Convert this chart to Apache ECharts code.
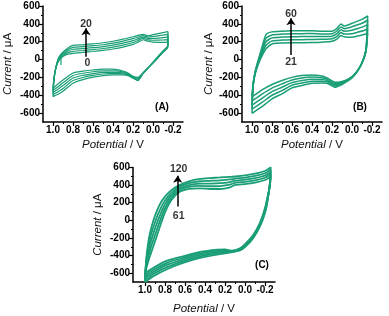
<!DOCTYPE html>
<html><head><meta charset="utf-8">
<script src="https://cdn.jsdelivr.net/npm/echarts/dist/echarts.min.js"></script>
<style>html,body{margin:0;padding:0;background:#fff}#c{width:389px;height:316px}</style>
</head><body><div id="c"></div>
<script>
// ---------- Tick values ----------
const xMajorTicks = [-0.2, 0, 0.2, 0.4, 0.6, 0.8, 1.0];
const xMinorTicks = [-0.1, 0.1, 0.3, 0.5, 0.7, 0.9];
const yMajorTicks = [-600, -400, -200, 0, 200, 400, 600];
const yMinorTicks = [-500, -300, -100, 100, 300, 500];

// ---------- Panel A (cycles 0 - 20) ----------
const potentialA = [1.00, 0.99, 0.97, 0.94, 0.90, 0.85, 0.80, 0.70, 0.60, 0.50, 0.40, 0.30, 0.20, 0.15, 0.10, 0.05, 0.00, -0.05, -0.10, -0.15,
  -0.145, -0.10, -0.05, 0.00, 0.05, 0.10, 0.15, 0.20, 0.25, 0.30, 0.40, 0.50, 0.60, 0.70, 0.80, 0.90, 0.95, 1.00];
const currentA0 = [-323, -200, -90, -10, 35, 60, 70, 80, 90, 102, 118, 140, 170, 195, 222, 205, 195, 193, 192, 195,
  130, 80, 20, -40, -95, -150, -200, -188, -150, -128, -108, -108, -117, -130, -150, -230, -275, -323];
const currentA5 = [-346, -208, -88, 0, 48, 78, 92, 101, 112, 124, 140, 162, 191, 214, 237, 220, 216, 217, 219, 224,
  135, 84, 23, -38, -94, -152, -209, -193, -157, -139, -124, -126, -137, -154, -179, -261, -304, -346];
const currentA10 = [-370, -215, -85, 10, 60, 95, 115, 122, 133, 145, 162, 184, 212, 232, 252, 235, 237, 241, 246, 253,
  140, 88, 27, -35, -94, -153, -218, -199, -165, -150, -140, -144, -157, -177, -207, -292, -332, -370];
const currentA15 = [-393, -222, -82, 20, 72, 112, 137, 144, 155, 166, 183, 206, 234, 251, 268, 250, 258, 266, 274, 283,
  145, 93, 30, -33, -93, -155, -228, -204, -172, -161, -156, -162, -178, -201, -236, -324, -361, -393];
const currentA20 = [-416, -230, -80, 30, 85, 130, 159, 165, 176, 188, 205, 228, 255, 270, 283, 265, 279, 290, 301, 312,
  150, 97, 34, -30, -93, -157, -237, -210, -180, -172, -172, -180, -198, -225, -265, -355, -390, -416];
const startPotentialA = [0.92, 0.92];
const startCurrentA = [-60, 45];

// ---------- Panel B (cycles 21 - 60) ----------
const potentialB = [1.00, 0.99, 0.97, 0.94, 0.90, 0.86, 0.80, 0.70, 0.60, 0.50, 0.40, 0.30, 0.20, 0.15, 0.11, 0.08, 0.00, -0.05, -0.10, -0.157,
  -0.14, -0.10, -0.05, 0.00, 0.05, 0.10, 0.17, 0.20, 0.25, 0.30, 0.40, 0.50, 0.60, 0.70, 0.80, 0.90, 0.95, 1.00];
const currentB21 = [-416, -280, -170, -60, 40, 120, 175, 185, 189, 189, 190, 195, 205, 230, 270, 256, 250, 262, 275, 295,
  90, -40, -130, -190, -225, -245, -255, -240, -205, -185, -173, -180, -200, -235, -280, -340, -380, -416];
const currentB31 = [-463, -289, -162, -49, 65, 160, 209, 218, 222, 223, 224, 226, 233, 260, 302, 286, 289, 304, 319, 343,
  98, -39, -133, -194, -230, -254, -269, -254, -220, -204, -197, -208, -230, -273, -320, -387, -426, -463];
const currentB41 = [-510, -298, -155, -38, 90, 200, 243, 252, 256, 257, 257, 257, 262, 290, 334, 316, 328, 345, 363, 392,
  105, -38, -135, -198, -235, -263, -283, -268, -235, -224, -220, -235, -259, -310, -360, -434, -473, -510];
const currentB51 = [-556, -306, -148, -26, 115, 240, 276, 285, 289, 290, 291, 287, 290, 320, 366, 346, 367, 387, 406, 440,
  113, -36, -138, -201, -240, -271, -297, -281, -250, -243, -244, -263, -289, -348, -400, -481, -519, -556];
const currentB60 = [-603, -315, -140, -15, 140, 280, 310, 318, 322, 324, 324, 318, 318, 350, 398, 376, 406, 428, 450, 488,
  120, -35, -140, -205, -245, -280, -311, -295, -265, -262, -267, -290, -318, -385, -440, -528, -565, -603];

// ---------- Panel C (cycles 61 - 120) ----------
const potentialC = [1.00, 0.99, 0.97, 0.95, 0.92, 0.88, 0.84, 0.80, 0.74, 0.66, 0.56, 0.45, 0.35, 0.25, 0.15, 0.10, 0.00, -0.10, -0.20, -0.257,
  -0.25, -0.23, -0.20, -0.15, -0.08, 0.00, 0.05, 0.13, 0.20, 0.28, 0.45, 0.62, 0.78, 0.92, 1.00];
const currentC61 = [-600, -560, -475, -405, -305, -172, -35, 90, 225, 320, 358, 364, 356, 356, 375, 402, 412, 428, 458, 496,
  400, 290, 140, -25, -170, -270, -318, -345, -330, -333, -359, -408, -457, -540, -600];
const currentC76 = [-626, -538, -424, -340, -233, -102, 25, 135, 254, 339, 379, 391, 387, 389, 405, 426, 437, 454, 484, 523,
  410, 280, 126, -36, -179, -279, -324, -349, -341, -347, -376, -427, -482, -564, -626];
const currentC91 = [-651, -515, -373, -275, -160, -31, 85, 180, 283, 359, 401, 417, 418, 422, 435, 450, 462, 479, 509, 549,
  420, 270, 111, -47, -188, -288, -329, -353, -353, -361, -393, -446, -506, -588, -651];
const currentC106 = [-677, -493, -321, -209, -88, 40, 145, 225, 311, 378, 422, 444, 449, 454, 464, 474, 486, 505, 535, 576,
  430, 260, 97, -58, -196, -296, -335, -356, -364, -375, -410, -465, -531, -612, -677];
const currentC120 = [-702, -470, -270, -144, -15, 110, 205, 270, 340, 397, 443, 470, 480, 487, 494, 498, 511, 530, 560, 602,
  440, 250, 82, -69, -205, -305, -340, -360, -375, -389, -427, -484, -555, -636, -702];

// ---------- Annotations (potential, current) ----------
const arrowA = [0.67, 32, 350];
const arrowB = [0.61, 51, 462];
const arrowC = [0.673, 157, 505];
const arrowLabelsA = [['20', 0.67, 400], ['0', 0.657, -42]];
const arrowLabelsB = [['60', 0.61, 512], ['21', 0.61, -24]];
const arrowLabelsC = [['120', 0.663, 578], ['61', 0.663, 52]];
const panelLetters = ['(A)', '(B)', '(C)'];

// ---------- Build ----------
const FONT = '"Liberation Sans", Arial, sans-serif';
const GREEN = '#1a9e77';
const grids = [
  {left: 43, top: 6, width: 140, height: 116},
  {left: 242, top: 6, width: 140, height: 116},
  {left: 133, top: 167.5, width: 142, height: 115}
];
const xRanges = [[-0.3, 1.1], [-0.3, 1.1], [-0.3, 1.12]];
const xNameGaps = [17, 17, 21];
const yNameGaps = [29, 27, 29];
const lineWidths = [1.2, 1.5, 1.8];

const nameStyle = {
  fontSize: 11.5, fontFamily: FONT, color: '#111',
  rich: {i: {fontStyle: 'italic', fontSize: 11.5, fontFamily: FONT, color: '#111'}}
};
const labelStyle = {fontSize: 10, fontWeight: 'bold', fontFamily: FONT, color: '#000'};

const xAxes = [], yAxes = [];
grids.forEach((g, p) => {
  xAxes.push({
    type: 'value', gridIndex: p, min: xRanges[p][0], max: xRanges[p][1], inverse: true, position: 'bottom',
    axisLine: {show: true, onZero: false, lineStyle: {color: '#000', width: 1.5}},
    axisTick: {show: true, length: 4, lineStyle: {color: '#000', width: 1.2}, customValues: xMajorTicks},
    axisLabel: Object.assign({show: true, margin: 3, customValues: xMajorTicks, formatter: v => (Math.abs(v) < 1e-9 ? 0 : v).toFixed(1)}, labelStyle),
    splitLine: {show: false},
    name: '{i|Potential} / V', nameLocation: 'middle', nameGap: xNameGaps[p], nameTextStyle: nameStyle
  });
  xAxes.push({
    type: 'value', gridIndex: p, min: xRanges[p][0], max: xRanges[p][1], inverse: true, position: 'bottom',
    axisLine: {show: false, onZero: false},
    axisTick: {show: true, length: 2, lineStyle: {color: '#000', width: 1}, customValues: xMinorTicks},
    axisLabel: {show: false}, splitLine: {show: false}
  });
  yAxes.push({
    type: 'value', gridIndex: p, min: -700, max: 600, position: 'left',
    axisLine: {show: true, onZero: false, lineStyle: {color: '#000', width: 1.5}},
    axisTick: {show: true, length: 4, lineStyle: {color: '#000', width: 1.2}, customValues: yMajorTicks},
    axisLabel: Object.assign({show: true, margin: 3, customValues: yMajorTicks}, labelStyle),
    splitLine: {show: false},
    name: '{i|Current} / μA', nameLocation: 'middle', nameGap: yNameGaps[p], nameTextStyle: nameStyle
  });
  yAxes.push({
    type: 'value', gridIndex: p, min: -700, max: 600, position: 'left',
    axisLine: {show: false, onZero: false},
    axisTick: {show: true, length: 2, lineStyle: {color: '#000', width: 1}, customValues: yMinorTicks},
    axisLabel: {show: false}, splitLine: {show: false}
  });
});

const panelCycles = [
  [potentialA, [currentA0, currentA5, currentA10, currentA15, currentA20]],
  [potentialB, [currentB21, currentB31, currentB41, currentB51, currentB60]],
  [potentialC, [currentC61, currentC76, currentC91, currentC106, currentC120]]
];
const arrows = [arrowA, arrowB, arrowC];
const arrowLabels = [arrowLabelsA, arrowLabelsB, arrowLabelsC];

const series = [];
panelCycles.forEach(([E, cycles], p) => {
  cycles.forEach(I => {
    series.push({
      type: 'line', xAxisIndex: p * 2, yAxisIndex: p * 2,
      data: E.map((e, k) => [e, I[k]]),
      showSymbol: false, smooth: 0.2, silent: true,
      lineStyle: {color: GREEN, width: lineWidths[p]}
    });
  });
  const a = arrows[p];
  series.push({
    type: 'scatter', xAxisIndex: p * 2, yAxisIndex: p * 2, silent: true,
    symbolSize: 1, itemStyle: {color: 'rgba(0,0,0,0)'},
    data: arrowLabels[p].map(l => ({name: l[0], value: [l[1], l[2]]})),
    label: {show: true, position: 'inside', formatter: '{b}', fontSize: 10.5, fontWeight: 'bold', fontFamily: FONT, color: '#000'},
    markLine: {
      silent: true, animation: false, symbol: ['none', 'arrow'], symbolSize: 7,
      lineStyle: {color: '#000', width: 1.5, type: 'solid'}, label: {show: false},
      data: [[{coord: [a[0], a[1]]}, {coord: [a[0], a[2]]}]]
    }
  });
});
series.push({
  type: 'line', xAxisIndex: 0, yAxisIndex: 0, silent: true, showSymbol: false,
  data: startPotentialA.map((e, k) => [e, startCurrentA[k]]),
  lineStyle: {color: GREEN, width: 1.2}
});

const letterPos = [[162, 107], [360, 107], [262, 265]];
const graphic = panelLetters.map((t, i) => ({
  type: 'text', x: letterPos[i][0], y: letterPos[i][1], silent: true,
  style: {text: t, font: 'bold 10px ' + FONT, fill: '#000', textAlign: 'center', textVerticalAlign: 'middle', align: 'center', verticalAlign: 'middle'}
}));

const chart = echarts.init(document.getElementById('c'), null, {renderer: 'canvas'});
chart.setOption({
  animation: false, backgroundColor: '#fff',
  grid: grids, xAxis: xAxes, yAxis: yAxes, series, graphic
});
</script></body></html>
